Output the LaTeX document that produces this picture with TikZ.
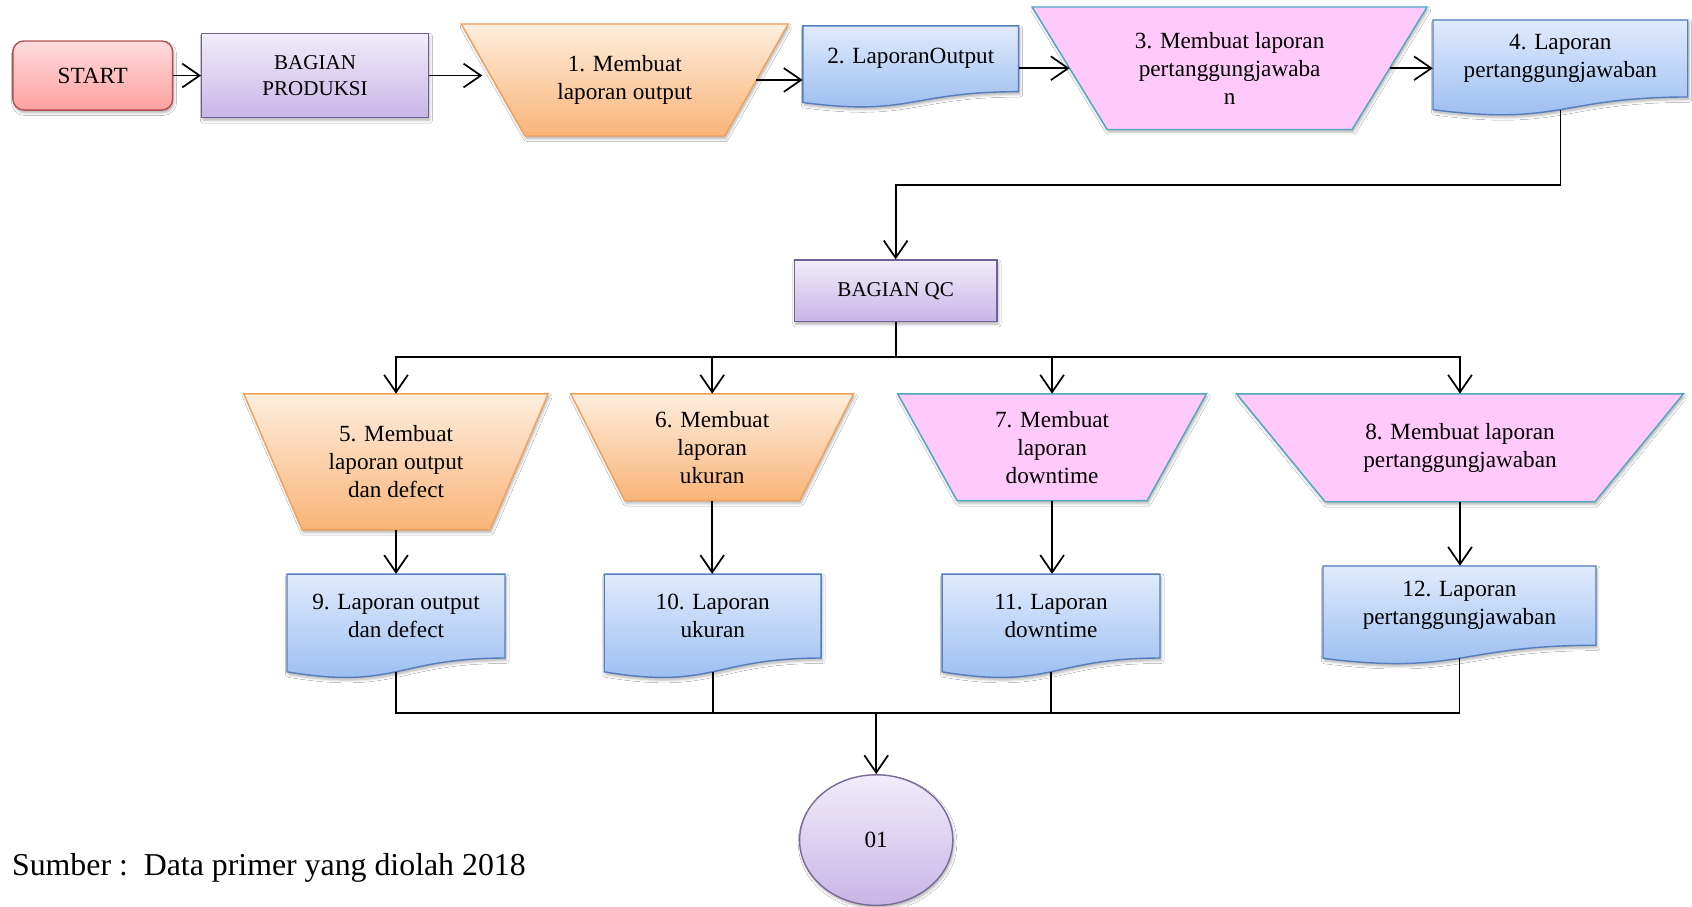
\documentclass[tikz,border=0pt]{standalone}
\usepackage{fontspec}
\setmainfont{Liberation Serif}
\usetikzlibrary{arrows.meta,shapes.geometric,shadows.blur,calc}

\definecolor{startTop}{RGB}{255,220,220}
\definecolor{startBot}{RGB}{255,160,160}
\definecolor{startLine}{RGB}{176,80,80}
\definecolor{purpTop}{RGB}{241,236,251}
\definecolor{purpBot}{RGB}{200,182,230}
\definecolor{purpLine}{RGB}{112,98,150}
\definecolor{orTop}{RGB}{254,238,222}
\definecolor{orBot}{RGB}{249,180,120}
\definecolor{orLine}{RGB}{240,162,92}
\definecolor{pinkFill}{RGB}{255,202,250}
\definecolor{pinkLine}{RGB}{78,168,196}
\definecolor{blTop}{RGB}{224,235,252}
\definecolor{blBot}{RGB}{150,186,240}
\definecolor{blLine}{RGB}{84,126,190}
\definecolor{circLine}{RGB}{122,106,152}

\tikzset{
  conn/.style={line width=1.6pt, black},
  arr/.style={conn, -{Straight Barb[length=16pt,width=22pt]}},
  soft/.style={blur shadow={shadow xshift=1.2pt, shadow yshift=-2.5pt,
      shadow blur radius=2.5pt, shadow opacity=30}},
  txt/.style={inner sep=0pt, align=center, font=\fontsize{21.5}{26}\selectfont},
  smalltxt/.style={font=\fontsize{19.5}{23.5}\selectfont},
  startstyle/.style={soft, rounded corners=10pt, draw=startLine, line width=1.3pt,
      top color=startTop, bottom color=startBot},
  deptstyle/.style={soft, draw=purpLine, line width=1.3pt,
      top color=purpTop, bottom color=purpBot},
  orangestyle/.style={soft, draw=orLine, line width=1.3pt,
      top color=orTop, bottom color=orBot},
  pinkstyle/.style={soft, draw=pinkLine, line width=1.3pt, fill=pinkFill},
  docstyle/.style={soft, draw=blLine, line width=1.3pt,
      top color=blTop, bottom color=blBot},
}

% Inverted trapezoid (manual operation): name, centre x, top y, bottom y,
% half width at top, half width at bottom, style, text
\newcommand\trapbox[8]{%
  \path[#7] ({#2-#5},{#3}) -- ({#2+#5},{#3}) -- ({#2+#6},{#4}) -- ({#2-#6},{#4}) -- cycle;
  \node[txt, minimum width=2*#5, minimum height=#4-#3] (#1) at ({#2},{(#3+#4)/2}) {#8};
  \coordinate (#1-l) at ({#2-(#5+#6)/2},{(#3+#4)/2});
  \coordinate (#1-r) at ({#2+(#5+#6)/2},{(#3+#4)/2});
}

% Document symbol with a wavy lower edge: name, centre x, top y, width, height, text
\newcommand\docbox[6]{%
  \path[docstyle] ({#2-#4/2},{#3}) -- ({#2+#4/2},{#3}) -- ({#2+#4/2},{#3+0.802*#5})
    .. controls ({#2},{#3+0.802*#5}) and ({#2},{#3+1.1075*#5}) .. ({#2-#4/2},{#3+0.934*#5}) -- cycle;
  \node[txt, minimum width=#4, minimum height=0.8*#5] (#1) at ({#2},{#3+0.4*#5}) {#6};
  \coordinate (#1-b) at ({#2},{#3+0.933*#5});
}

\begin{document}
\begin{tikzpicture}[x=1pt, y=-1pt]
\fill[white] (0,0) rectangle (1568,840);
\useasboundingbox (0,0) rectangle (1568,840);

% ---- production department row ----
\node[startstyle, txt, minimum width=148, minimum height=64] (start) at (86,70) {START};
\node[deptstyle, txt, smalltxt, minimum width=210, minimum height=78] (prod) at (292,70) {BAGIAN\\PRODUKSI};

\trapbox{t1}{579}{22.2}{126}{151.5}{92.5}{orangestyle}{1. Membuat\\laporan output}
\docbox{d2}{844}{24}{200}{76}{2. LaporanOutput}
\trapbox{t3}{1139.5}{6.5}{120}{183}{113.5}{pinkstyle}{3. Membuat laporan\\pertanggungjawaba\\n}
\docbox{d4}{1446}{18.5}{236}{89}{4. Laporan\\pertanggungjawaban}

% ---- QC department ----
\node[deptstyle, txt, smalltxt, minimum width=188, minimum height=57] (qc) at (830,269.5) {BAGIAN QC};

\trapbox{t5}{367}{365}{491}{141}{87}{orangestyle}{5. Membuat\\laporan output\\dan defect}
\trapbox{t6}{660}{365}{464}{131}{81}{orangestyle}{6. Membuat\\laporan\\ukuran}
\trapbox{t7}{975}{365}{464}{143}{88}{pinkstyle}{7. Membuat\\laporan\\downtime}
\trapbox{t8}{1353}{365}{465}{207}{125}{pinkstyle}{8. Membuat laporan\\pertanggungjawaban}

\docbox{d9}{367}{532}{202}{97}{9. Laporan output\\dan defect}
\docbox{d10}{660.5}{532}{201}{97}{10. Laporan\\ukuran}
\docbox{d11}{974}{532}{202}{97}{11. Laporan\\downtime}
\docbox{d12}{1352.5}{524.5}{253}{91.6}{12. Laporan\\pertanggungjawaban}

\node[ellipse, draw=circLine, line width=1.3pt, top color=purpTop, bottom color=purpBot,
      soft, txt, minimum width=142, minimum height=121] (end) at (812,778.5) {01};

\node[inner sep=0pt, anchor=base west, font=\fontsize{29.5}{34}\selectfont] (src) at (11,811)
  {Sumber :\ \ Data primer yang diolah 2018};

% ---- junction points ----
\coordinate (qctop) at (830,171.5);
\coordinate (fork) at (830,331);
\coordinate (join) at (812,661);

% ---- connectors ----
\draw[arr] (start.east) -- (prod.west);
\draw[arr, shorten >=10pt] (prod.east) -- (prod.east -| t1-l);
\draw[arr] (t1-r) -- (t1-r -| d2.west);
\draw[arr] (d2.east |- t3-l) -- (t3-l);
\draw[arr] (t3-r) -- (t3-r -| d4.west);
\draw[arr] (d4-b) |- (qctop) -- (qc.north);

\draw[conn] (qc.south) -- (fork);
\draw[arr] (fork) -| (t5.north);
\draw[arr] (fork) -| (t6.north);
\draw[arr] (fork) -| (t7.north);
\draw[arr] (fork) -| (t8.north);

\draw[arr] (t5.south) -- (t5.south |- d9.north);
\draw[arr] (t6.south) -- (t6.south |- d10.north);
\draw[arr] (t7.south) -- (t7.south |- d11.north);
\draw[arr] (t8.south) -- (t8.south |- d12.north);

\draw[conn] (d9-b) |- (join);
\draw[conn] (d10-b) |- (join);
\draw[conn] (d11-b) |- (join);
\draw[conn] (d12-b) |- (join);
\draw[arr] (join) -- (end.north);
\end{tikzpicture}
\end{document}
